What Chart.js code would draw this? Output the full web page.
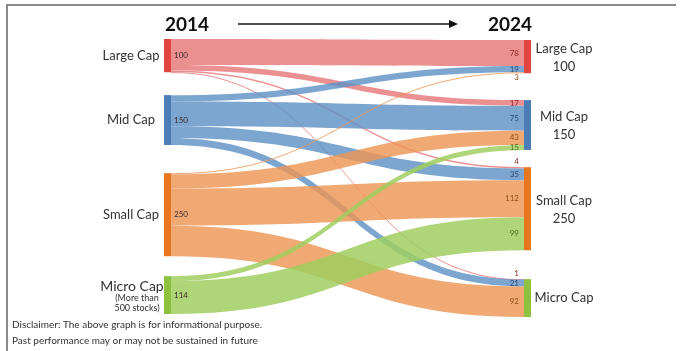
<!DOCTYPE html>
<html>
<head>
<meta charset="utf-8">
<title>Market cap migration 2014 - 2024</title>
<script src="https://cdn.jsdelivr.net/npm/chart.js@4.4.1/dist/chart.umd.min.js"></script>
<style>
  html, body { margin: 0; padding: 0; background: #fff; }
  #wrap { position: relative; width: 681px; height: 351px; }
  #frame { position: absolute; left: 6px; top: 4px; width: 670px; height: 347px;
           border-top: 2px solid #8a8a8a; border-left: 2px solid #8a8a8a; box-sizing: border-box; }
  canvas { position: absolute; left: 0; top: 0; }
</style>
</head>
<body>
<div id="wrap">
  <div id="frame"></div>
  <canvas id="sankey" width="681" height="351"></canvas>
</div>
<script>
// buckets, same order on both sides
var categories = ['Large Cap', 'Mid Cap', 'Small Cap', 'Micro Cap'];
var years = ['2014', '2024'];

// number of stocks in each bucket
var stocks2014 = [100, 150, 250, 114];
var stocks2024 = [100, 150, 250, 114];

// where the 2014 stocks of each bucket ended up in 2024 (Large, Mid, Small, Micro)
var fromLarge = [78, 17, 4, 1];
var fromMid = [19, 75, 35, 21];
var fromSmall = [3, 43, 112, 92];
var fromMicro = [0, 15, 99, 0];
var flows = [fromLarge, fromMid, fromSmall, fromMicro];

// layout: top of each node on the y axis (in stocks), gaps are hand tuned
var leftTop = [0, 169, 404, 714];
var rightTop = [3, 184, 386, 723];

var nodeColors = ['#e0463f', '#4a7db8', '#e8761f', '#8cc23e'];
var linkColors = ['rgba(230,120,120,0.82)', 'rgba(95,145,196,0.82)', 'rgba(238,150,85,0.82)', 'rgba(160,206,95,0.85)'];
var textColors = ['#8e2a2a', '#2b4c78', '#8f4a12', '#4b6b1c'];
var FONT = 'Lato, "Open Sans", sans-serif';

var sankeyPlugin = {
    id: 'sankey',
    beforeDatasetsDraw: function (chart) {
        var ctx = chart.ctx;
        var x = chart.scales.x, y = chart.scales.y;
        var nodeW = 7;
        var xL = x.getPixelForValue(0), xR = x.getPixelForValue(1);
        var xs = xL + nodeW, xt = xR - nodeW, xm = (xs + xt) / 2;

        // running offsets inside every node
        var outOff = stocks2014.map(function () { return 0; });
        var inOff = stocks2024.map(function () { return 0; });
        var bands = [];
        for (var t = 0; t < categories.length; t++) {
            for (var s = 0; s < categories.length; s++) {
                var v = flows[s][t];
                if (!v) continue;
                bands.push({ s: s, t: t, v: v, inStart: rightTop[t] + inOff[t] });
                inOff[t] += v;
            }
        }
        for (var s2 = 0; s2 < categories.length; s2++) {
            for (var t2 = 0; t2 < categories.length; t2++) {
                var b = bands.find(function (o) { return o.s === s2 && o.t === t2; });
                if (!b) continue;
                b.outStart = leftTop[s2] + outOff[s2];
                outOff[s2] += b.v;
            }
        }

        // links, drawn by source so the later buckets sit on top
        bands.sort(function (a, b) { return a.s - b.s || a.t - b.t; });
        bands.forEach(function (b) {
            var y0 = y.getPixelForValue(b.outStart), y1 = y.getPixelForValue(b.outStart + b.v);
            var z0 = y.getPixelForValue(b.inStart), z1 = y.getPixelForValue(b.inStart + b.v);
            if (y1 - y0 < 1) { y1 = y0 + 1; z1 = z0 + 1; }
            ctx.beginPath();
            ctx.moveTo(xs, y0);
            ctx.bezierCurveTo(xm, y0, xm, z0, xt, z0);
            ctx.lineTo(xt, z1);
            ctx.bezierCurveTo(xm, z1, xm, y1, xs, y1);
            ctx.closePath();
            ctx.fillStyle = linkColors[b.s];
            ctx.fill();
        });

        // nodes
        categories.forEach(function (c, i) {
            ctx.fillStyle = nodeColors[i];
            var a = y.getPixelForValue(leftTop[i]), e = y.getPixelForValue(leftTop[i] + stocks2014[i]);
            ctx.fillRect(xL, a, nodeW, e - a);
            a = y.getPixelForValue(rightTop[i]); e = y.getPixelForValue(rightTop[i] + stocks2024[i]);
            ctx.fillRect(xt, a, nodeW, e - a);
        });

        // values at the incoming end of each link
        ctx.font = '8px ' + FONT;
        ctx.textAlign = 'right';
        ctx.textBaseline = 'middle';
        bands.forEach(function (b) {
            var top = y.getPixelForValue(b.inStart), bot = y.getPixelForValue(b.inStart + b.v);
            var ly = (top + bot) / 2;
            if (bot - top < 4) {
                ly = b.inStart === rightTop[b.t] ? top - 6 : bot + 4;
            }
            ctx.fillStyle = textColors[b.s];
            ctx.fillText(String(b.v), xt - 5, ly);
        });

        // 2014 totals inside the left bands
        ctx.textAlign = 'left';
        categories.forEach(function (c, i) {
            ctx.fillStyle = '#3a2a2a';
            ctx.fillText(String(stocks2014[i]), xs + 3, y.getPixelForValue(leftTop[i] + stocks2014[i] / 2));
        });
    },
    afterDraw: function (chart) {
        var ctx = chart.ctx;
        var x = chart.scales.x, y = chart.scales.y;
        var xL = x.getPixelForValue(0), xR = x.getPixelForValue(1);
        ctx.save();
        ctx.fillStyle = '#333';
        ctx.textBaseline = 'middle';

        // left bucket names
        ctx.textAlign = 'center';
        ctx.font = '13px ' + FONT;
        categories.forEach(function (c, i) {
            var cy = y.getPixelForValue(leftTop[i] + stocks2014[i] / 2);
            if (i === 3) {
                ctx.font = '14px ' + FONT;
                ctx.fillText(c, xL - 32, cy - 9);
                ctx.font = '9px ' + FONT;
                ctx.fillText('(More than', xL - 27, cy + 3);
                ctx.fillText('500 stocks)', xL - 27, cy + 13);
            } else {
                ctx.fillText(c, xL - 33, cy);
            }
        });

        // right bucket names with 2024 totals
        ctx.font = '13px ' + FONT;
        categories.forEach(function (c, i) {
            var cy = y.getPixelForValue(rightTop[i] + stocks2024[i] / 2);
            if (i === 3) {
                ctx.fillText(c, xR + 33, cy);
            } else {
                ctx.fillText(c, xR + 33, cy - 8);
                ctx.fillText(String(stocks2024[i]), xR + 33, cy + 10);
            }
        });

        // years and arrow
        ctx.font = 'bold 19px ' + FONT;
        ctx.fillStyle = '#111';
        ctx.textAlign = 'left';
        ctx.fillText(years[0], xL + 1, 25);
        ctx.textAlign = 'right';
        ctx.fillText(years[1], xR + 1, 25);
        ctx.strokeStyle = '#111';
        ctx.lineWidth = 1.6;
        ctx.beginPath();
        ctx.moveTo(238, 24);
        ctx.lineTo(452, 24);
        ctx.stroke();
        ctx.beginPath();
        ctx.moveTo(458, 24);
        ctx.lineTo(449, 20);
        ctx.lineTo(449, 28);
        ctx.closePath();
        ctx.fillStyle = '#111';
        ctx.fill();

        // disclaimer
        ctx.font = '10px ' + FONT;
        ctx.fillStyle = '#333';
        ctx.textAlign = 'left';
        ctx.fillText('Disclaimer: The above graph is for informational purpose.', 12, 325);
        ctx.fillText('Past performance may or may not be sustained in future', 12, 341);
        ctx.restore();
    }
};

var ctx = document.getElementById('sankey').getContext('2d');
var chart = new Chart(ctx, {
    type: 'scatter',
    data: { datasets: [] },
    options: {
        responsive: false,
        animation: false,
        layout: { padding: { left: 164, right: 150, top: 39, bottom: 34 } },
        plugins: { legend: { display: false }, tooltip: { enabled: false } },
        scales: {
            x: { type: 'linear', min: 0, max: 1, display: false },
            y: { type: 'linear', min: 0, max: 837, reverse: true, display: false }
        }
    },
    plugins: [sankeyPlugin]
});
</script>
</body>
</html>
